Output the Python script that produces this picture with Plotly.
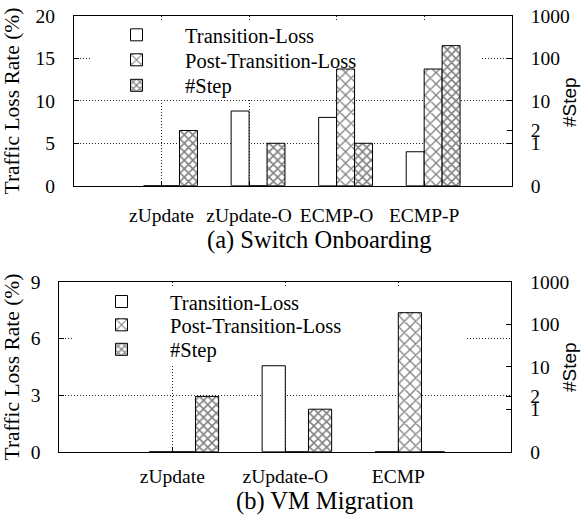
import math
import plotly.graph_objects as go

# ---------------- data ----------------
top_categories = ["zUpdate", "zUpdate-O", "ECMP-O", "ECMP-P"]
top_transition_loss = [0, 8.8, 8.05, 4.0]
top_post_transition_loss = [0, 0, 13.75, 13.75]
top_steps = [2, 1, 1, 200]

bot_categories = ["zUpdate", "zUpdate-O", "ECMP"]
bot_transition_loss = [0, 4.55, 0]
bot_post_transition_loss = [0, 0, 7.36]
bot_steps = [2, 1, 0]

top_loss_ticks = [0, 5, 10, 15, 20]
bot_loss_ticks = [0, 3, 6, 9]
step_tick_labels = [0, 1, 2, 10, 100, 1000]

series_names = ["Transition-Loss", "Post-Transition-Loss", "#Step"]
top_caption = "(a) Switch Onboarding"
bot_caption = "(b) VM Migration"
loss_title = "Traffic Loss Rate (%)"
step_title = "#Step"


# step axis: 0 -> 0, n>=1 -> log10(n)+1  (gnuplot style broken log axis)
def step_pos(n):
    return 0 if n <= 0 else math.log10(n) + 1


W_PX, H_PX = 581, 529
SERIF = "Liberation Serif"
SANS = "Liberation Sans"
BW = 0.205  # bar width (category units)

post_pattern = dict(shape="x", fgcolor="black", bgcolor="white", size=8, solidity=0.3)
step_pattern = dict(shape="x", fgcolor="black", bgcolor="white", size=6, solidity=0.45)
line = dict(color="black", width=1)

fig = go.Figure()


def add_group(cats, tl, ptl, steps, xa, ya, ya_step, legs):
    fig.add_trace(go.Bar(x=cats, y=tl, xaxis=xa, yaxis=ya, offset=-BW, width=BW,
                         marker=dict(color="white", line=line),
                         name=series_names[0], legend=legs[0], showlegend=True))
    fig.add_trace(go.Bar(x=cats, y=ptl, xaxis=xa, yaxis=ya, offset=0, width=BW,
                         marker=dict(color="white", line=line, pattern=post_pattern),
                         name=series_names[1], legend=legs[1], showlegend=True))
    fig.add_trace(go.Bar(x=cats, y=[step_pos(s) for s in steps], xaxis=xa, yaxis=ya_step,
                         offset=BW, width=BW,
                         marker=dict(color="white", line=line, pattern=step_pattern),
                         name=series_names[2], legend=legs[2], showlegend=True))


add_group(top_categories, top_transition_loss, top_post_transition_loss, top_steps,
          "x", "y", "y3", ["legend", "legend2", "legend3"])
add_group(bot_categories, bot_transition_loss, bot_post_transition_loss, bot_steps,
          "x2", "y2", "y4", ["legend4", "legend5", "legend6"])


def px_x(v):
    return v / W_PX


def px_y(v):
    return 1 - v / H_PX


tick_font = dict(family=SERIF, size=19.5, color="black")
grid = dict(showgrid=True, gridcolor="#222", griddash="1px,2px", gridwidth=1)


def xaxis(domain, n, anchor, standoff):
    return dict(domain=domain, anchor=anchor, type="category", range=[-1, n],
                showline=True, linecolor="black", linewidth=1, mirror=True,
                ticks="inside", ticklen=5, tickcolor="black",
                tickfont=tick_font, ticklabelstandoff=standoff, automargin=False, **grid)


def yaxis(domain, ticks, anchor):
    return dict(domain=domain, anchor=anchor, range=[ticks[0], ticks[-1]],
                tickvals=ticks, showline=True, linecolor="black", linewidth=1, mirror=True,
                ticks="inside", ticklen=5, tickcolor="black", zeroline=False,
                tickfont=tick_font, ticklabelstandoff=14, automargin=False, **grid)


step_vals = [step_pos(v) for v in step_tick_labels]


def yaxis_step(over, anchor):
    return dict(overlaying=over, anchor=anchor, side="right",
                range=[0, step_pos(step_tick_labels[-1])],
                tickvals=step_vals, ticktext=[str(v) for v in step_tick_labels],
                showgrid=False, zeroline=False, showline=False,
                ticks="inside", ticklen=5, tickcolor="black",
                tickfont=tick_font, ticklabelstandoff=18, automargin=False)


top_xd = [px_x(74), px_x(511.7)]
bot_xd = [px_x(59.3), px_x(511.3)]
top_yd = [px_y(185.7), px_y(16)]
bot_yd = [px_y(451.7), px_y(281.7)]


def legend(xpx, ypx):
    return dict(x=px_x(xpx), y=px_y(ypx), xanchor="left", yanchor="middle",
                bgcolor="rgba(0,0,0,0)", borderwidth=0, itemwidth=87,
                font=dict(family=SERIF, size=20.5, color="black"))


annotations = [
    dict(text=top_caption, x=px_x(320), y=px_y(240), xref="paper", yref="paper",
         showarrow=False, font=dict(family=SERIF, size=24.5, color="black"),
         xanchor="center", yanchor="middle"),
    dict(text=bot_caption, x=px_x(325), y=px_y(501), xref="paper", yref="paper",
         showarrow=False, font=dict(family=SERIF, size=24.5, color="black"),
         xanchor="center", yanchor="middle"),
    dict(text=loss_title, x=px_x(11.5), y=px_y(101), xref="paper", yref="paper",
         showarrow=False, textangle=-90, font=dict(family=SERIF, size=21.5, color="black"),
         xanchor="center", yanchor="middle"),
    dict(text=loss_title, x=px_x(11.5), y=px_y(367), xref="paper", yref="paper",
         showarrow=False, textangle=-90, font=dict(family=SERIF, size=21.5, color="black"),
         xanchor="center", yanchor="middle"),
    dict(text=step_title, x=px_x(569), y=px_y(102), xref="paper", yref="paper",
         showarrow=False, textangle=-90, font=dict(family=SANS, size=19, color="black"),
         xanchor="center", yanchor="middle"),
    dict(text=step_title, x=px_x(569), y=px_y(367), xref="paper", yref="paper",
         showarrow=False, textangle=-90, font=dict(family=SANS, size=19, color="black"),
         xanchor="center", yanchor="middle"),
]

# opaque key boxes (hide grid behind legend, like gnuplot "key opaque")
shapes = [
    dict(type="rect", xref="x", yref="y", x0=-0.817, x1=3.638, y0=10.22, y1=19.29,
         fillcolor="white", line=dict(width=0), layer="between"),
    dict(type="rect", xref="x2", yref="y2", x0=-0.879, x1=2.608, y0=4.64, y1=8.72,
         fillcolor="white", line=dict(width=0), layer="between"),
]

fig.update_layout(
    width=W_PX, height=H_PX, margin=dict(l=0, r=0, t=0, b=0),
    paper_bgcolor="white", plot_bgcolor="white", barmode="overlay", showlegend=True,
    xaxis=xaxis(top_xd, len(top_categories), "y", 12),
    yaxis=yaxis(top_yd, top_loss_ticks, "x"),
    yaxis3=yaxis_step("y", "x"),
    xaxis2=xaxis(bot_xd, len(bot_categories), "y2", 7),
    yaxis2=yaxis(bot_yd, bot_loss_ticks, "x2"),
    yaxis4=yaxis_step("y2", "x2"),
    legend=legend(88, 35), legend2=legend(88, 60), legend3=legend(88, 85.5),
    legend4=legend(73, 301.7), legend5=legend(73, 325), legend6=legend(73, 349.5),
    annotations=annotations, shapes=shapes,
)

fig.write_html("out.html")
